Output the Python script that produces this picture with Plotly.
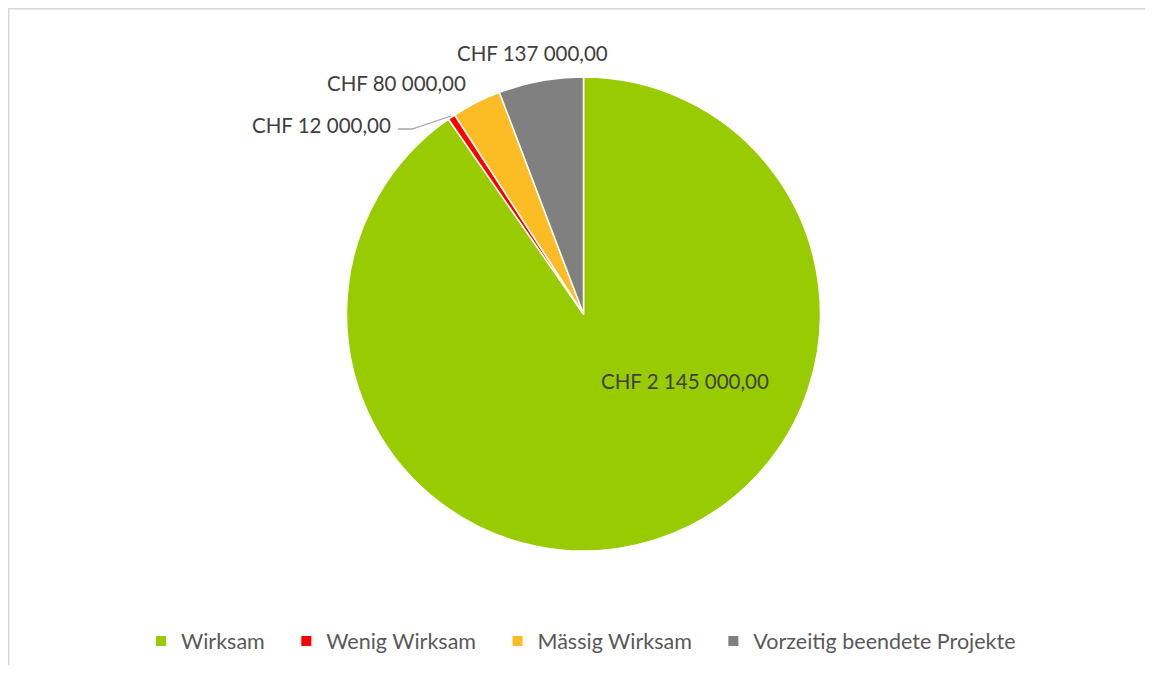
import plotly.graph_objects as go

categories = ["Wirksam", "Wenig Wirksam", "Mässig Wirksam", "Vorzeitig beendete Projekte"]
values = [2145000, 12000, 80000, 137000]
colors = ["#99CC00", "#FF0000", "#FBBC24", "#808080"]

OFF = 8  # page body margin
W, H = 1153 - 2 * OFF, 673 - 2 * OFF

def chf(v):
    s = f"{v:,.2f}"
    return "CHF " + s.replace(",", " ").replace(".", ",")

labels_txt = [chf(v) for v in values]
# label centre positions in page pixels
label_pos = [(685, 381), (321, 125), (396, 83), (532, 53)]

cx, cy, r = 583.5 - OFF, 314 - OFF, 237

pad = "\u00a0" * 3
legend_names = [c + pad for c in categories[:-1]] + [categories[-1]]

fig = go.Figure(go.Pie(
    labels=legend_names,
    values=values,
    sort=False,
    direction="clockwise",
    rotation=0,
    marker=dict(colors=colors, line=dict(color="white", width=1.5)),
    textinfo="none",
    hoverinfo="label+value",
    domain=dict(x=[(cx - r) / W, (cx + r) / W], y=[1 - (cy + r) / H, 1 - (cy - r) / H]),
))

font_family = "Lato, 'Open Sans', sans-serif"
ann = []
for t, (px, py) in zip(labels_txt, label_pos):
    ann.append(dict(x=(px - OFF) / W, y=1 - (py - OFF) / H, xref="paper", yref="paper", text=t,
                    showarrow=False, xanchor="center", yanchor="middle",
                    font=dict(family=font_family, size=20.5, color="#404040")))

def P(x, y):
    return f"{(x - OFF) / W} {1 - (y - OFF) / H}"

shapes = [
    dict(type="line", xref="paper", yref="paper", x0=0.75 / W, x1=0.75 / W, y0=0, y1=1,
         line=dict(color="#D9D9D9", width=1.5), layer="below"),
    dict(type="line", xref="paper", yref="paper", x0=0, x1=1, y0=1 - 0.75 / H, y1=1 - 0.75 / H,
         line=dict(color="#D9D9D9", width=1.5), layer="below"),
    dict(type="path", xref="paper", yref="paper",
         path=f"M {P(398, 129)} L {P(412, 129)} L {P(451, 116)}",
         line=dict(color="#A6A6A6", width=1.3)),
]

fig.update_layout(
    width=W, height=H,
    margin=dict(l=0, r=0, t=0, b=0),
    paper_bgcolor="white",
    plot_bgcolor="white",
    showlegend=True,
    legend=dict(orientation="h", x=133 / W, xanchor="left", y=1 - (641 - OFF) / H, yanchor="middle",
                font=dict(family=font_family, size=21.5, color="#595959"),
                itemsizing="constant"),
    annotations=ann,
    shapes=shapes,
)

fig.write_html("out.html", config={"displayModeBar": False})
